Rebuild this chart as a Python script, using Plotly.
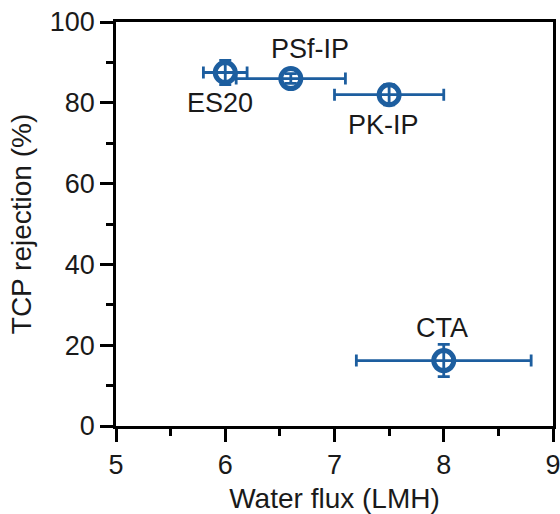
import plotly.graph_objects as go

names = ["ES20", "PSf-IP", "PK-IP", "CTA"]
flux = [6.0, 6.6, 7.5, 8.0]
flux_err = [0.2, 0.5, 0.5, 0.8]
rejection = [87.5, 86.0, 82.0, 16.2]
rejection_err = [3.0, 1.2, 2.5, 4.0]

label_pos = {
    "ES20": dict(xshift=-5, yshift=-30),
    "PSf-IP": dict(xshift=19, yshift=30),
    "PK-IP": dict(xshift=-6, yshift=-30),
    "CTA": dict(xshift=-2, yshift=33),
}

color = "#1d5e9f"
txt = "#1a1a1a"
fam = "Liberation Sans, Arial"

fig = go.Figure()
fig.add_trace(go.Scatter(
    x=flux, y=rejection, mode="markers",
    marker=dict(symbol="circle-open", size=20, color=color, line=dict(width=5, color=color)),
    error_x=dict(type="data", array=flux_err, color=color, thickness=2.8, width=6),
    error_y=dict(type="data", array=rejection_err, color=color, thickness=2.8, width=6),
    showlegend=False,
))

for n, x, y in zip(names, flux, rejection):
    p = label_pos[n]
    fig.add_annotation(x=x, y=y, text=n, showarrow=False,
                       xshift=p["xshift"], yshift=p["yshift"],
                       font=dict(size=27, color=txt, family=fam))

axis_common = dict(
    showline=True, linecolor="black", linewidth=2.5, mirror=True,
    ticks="outside", ticklen=13, tickwidth=2.5, tickcolor="black",
    showgrid=False, zeroline=False, automargin=False,
    ticklabeloverflow="allow",
    tickfont=dict(size=27, color=txt, family=fam),
)

fig.update_xaxes(range=[5, 9], dtick=1,
                 title=dict(text="Water flux (LMH)", font=dict(size=28, color=txt, family=fam), standoff=10),
                 minor=dict(dtick=0.5, ticks="outside", ticklen=7, tickwidth=2.5, tickcolor="black"),
                 **axis_common)
fig.update_yaxes(range=[0, 100], dtick=20,
                 title=dict(text="TCP rejection (%)", font=dict(size=28, color=txt, family=fam), standoff=10),
                 minor=dict(dtick=10, ticks="outside", ticklen=7, tickwidth=2.5, tickcolor="black"),
                 **axis_common)

fig.update_layout(
    width=560, height=514,
    margin=dict(l=116, r=7, t=22, b=88),
    plot_bgcolor="white", paper_bgcolor="white",
    font=dict(family=fam),
)

fig.write_html("out.html")
